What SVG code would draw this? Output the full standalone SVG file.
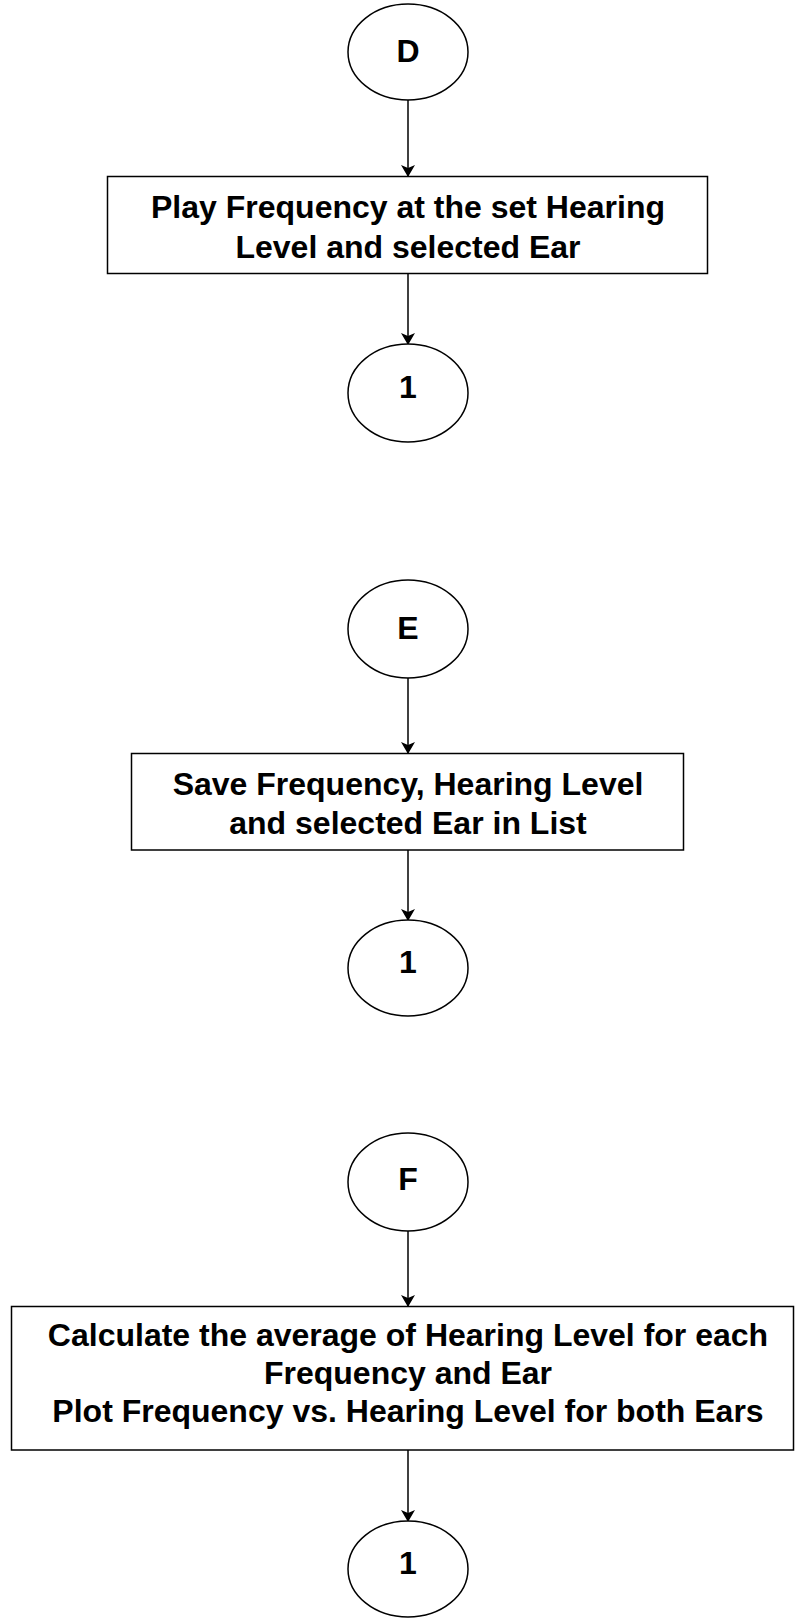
<svg xmlns="http://www.w3.org/2000/svg" width="795" height="1618" viewBox="0 0 795 1618">
<defs>
<style>
.n{fill:#fff;stroke:#000;stroke-width:1.5}
.t{font-family:"Liberation Sans",Arial,sans-serif;font-weight:bold;font-size:32px;fill:#000;text-anchor:middle;dominant-baseline:central}
.c{stroke:#000;stroke-width:1.5;fill:none;marker-end:url(#ah)}
</style>
<marker id="ah" viewBox="0 0 12 14" refX="11" refY="7" markerWidth="12" markerHeight="14" markerUnits="userSpaceOnUse" orient="auto">
<path d="M0,0 L12,7 L0,14 L3,7 Z" fill="#000"/>
</marker>
</defs>
<rect width="795" height="1618" fill="#fff"/>
<g id="connectors">
<line class="c" x1="408" y1="100" x2="408" y2="176"/>
<line class="c" x1="408" y1="274" x2="408" y2="344"/>
<line class="c" x1="408" y1="678" x2="408" y2="753"/>
<line class="c" x1="408" y1="850" x2="408" y2="920"/>
<line class="c" x1="408" y1="1231" x2="408" y2="1306"/>
<line class="c" x1="408" y1="1450" x2="408" y2="1521"/>
</g>
<g id="nodeD"><ellipse class="n" cx="408" cy="52" rx="60" ry="48"/><text class="t" x="408" y="51">D</text></g>
<g id="nodePlay"><rect class="n" x="107.5" y="176.5" width="600" height="97"/><text class="t" x="408" y="207">Play Frequency at the set Hearing</text><text class="t" x="408" y="247">Level and selected Ear</text></g>
<g id="node1a"><ellipse class="n" cx="408" cy="393" rx="60" ry="49"/><text class="t" x="408" y="387">1</text></g>
<g id="nodeE"><ellipse class="n" cx="408" cy="629" rx="60" ry="49"/><text class="t" x="408" y="628">E</text></g>
<g id="nodeSave"><rect class="n" x="131.5" y="753.5" width="552" height="96.5"/><text class="t" x="408" y="783.5">Save Frequency, Hearing Level</text><text class="t" x="408" y="822.5">and selected Ear in List</text></g>
<g id="node1b"><ellipse class="n" cx="408" cy="968" rx="60" ry="48"/><text class="t" x="408" y="962">1</text></g>
<g id="nodeF"><ellipse class="n" cx="408" cy="1182" rx="60" ry="49"/><text class="t" x="408" y="1179">F</text></g>
<g id="nodeCalc"><rect class="n" x="11.5" y="1306.5" width="782" height="143.5"/><text class="t" x="408" y="1335">Calculate the average of Hearing Level for each</text><text class="t" x="408" y="1373">Frequency and Ear</text><text class="t" x="408" y="1410.5">Plot Frequency vs. Hearing Level for both Ears</text></g>
<g id="node1c"><ellipse class="n" cx="408" cy="1569" rx="60" ry="48"/><text class="t" x="408" y="1563">1</text></g>
</svg>
